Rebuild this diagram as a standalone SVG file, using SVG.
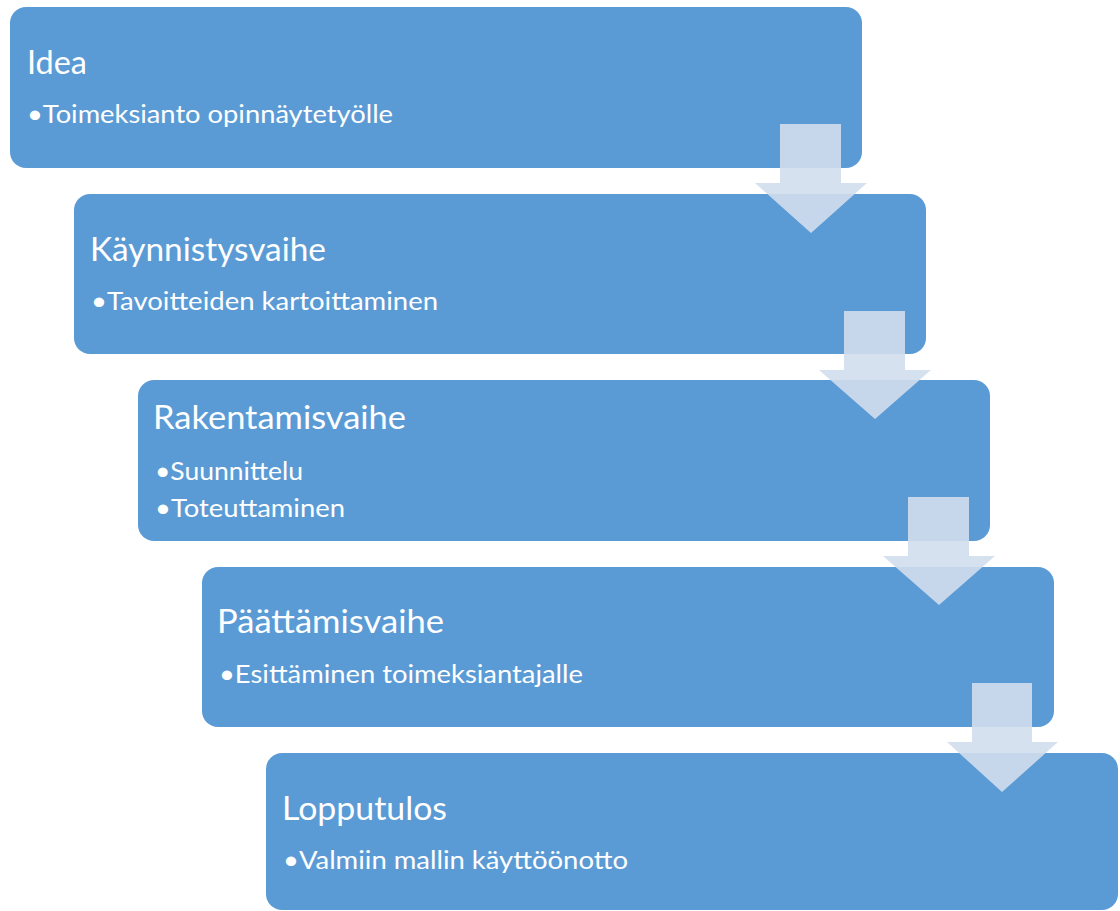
<svg xmlns="http://www.w3.org/2000/svg" width="1120" height="911" viewBox="0 0 1120 911">
<style>
.box{fill:#5b9bd5;}
.t{font-family:Lato,"Open Sans","Liberation Sans",sans-serif;fill:#ffffff;}
.h{font-size:33px;}
.b{font-size:25px;}
.arr{fill:#d2deee;fill-opacity:0.9;}
</style>
<rect width="1120" height="911" fill="#ffffff"/>
<g id="node1">
<rect class="box" x="10" y="7" width="852" height="161" rx="16"/>
<text class="t h" x="27" y="74" textLength="60" lengthAdjust="spacingAndGlyphs">Idea</text>
<text class="t b" x="27" y="123" textLength="366" lengthAdjust="spacingAndGlyphs">•Toimeksianto opinnäytetyölle</text>
</g>
<g id="node2">
<rect class="box" x="74" y="194" width="852" height="160" rx="16"/>
<text class="t h" x="90" y="261" textLength="236" lengthAdjust="spacingAndGlyphs">Käynnistysvaihe</text>
<text class="t b" x="91" y="310" textLength="347" lengthAdjust="spacingAndGlyphs">•Tavoitteiden kartoittaminen</text>
</g>
<g id="node3">
<rect class="box" x="138" y="380" width="852" height="161" rx="16"/>
<text class="t h" x="153" y="429" textLength="253" lengthAdjust="spacingAndGlyphs">Rakentamisvaihe</text>
<text class="t b" x="155" y="480" textLength="148" lengthAdjust="spacingAndGlyphs">•Suunnittelu</text>
<text class="t b" x="155" y="517" textLength="190" lengthAdjust="spacingAndGlyphs">•Toteuttaminen</text>
</g>
<g id="node4">
<rect class="box" x="202" y="567" width="852" height="160" rx="16"/>
<text class="t h" x="217" y="633" textLength="227" lengthAdjust="spacingAndGlyphs">Päättämisvaihe</text>
<text class="t b" x="219" y="683" textLength="364" lengthAdjust="spacingAndGlyphs">•Esittäminen toimeksiantajalle</text>
</g>
<g id="node5">
<rect class="box" x="266" y="753" width="852" height="157" rx="16"/>
<text class="t h" x="282" y="820" textLength="165" lengthAdjust="spacingAndGlyphs">Lopputulos</text>
<text class="t b" x="283" y="869" textLength="345" lengthAdjust="spacingAndGlyphs">•Valmiin mallin käyttöönotto</text>
</g>
<g id="connectors">
<polygon class="arr" points="780,124 841,124 841,183 867,183 811,233 755,183 780,183"/>
<polygon class="arr" points="844,311 905,311 905,370 931,370 875,419 819,370 844,370"/>
<polygon class="arr" points="908,497 969,497 969,556 995,556 939,605 883,556 908,556"/>
<polygon class="arr" points="972,683 1032,683 1032,742 1058,742 1002,792 947,742 972,742"/>
</g>
</svg>
